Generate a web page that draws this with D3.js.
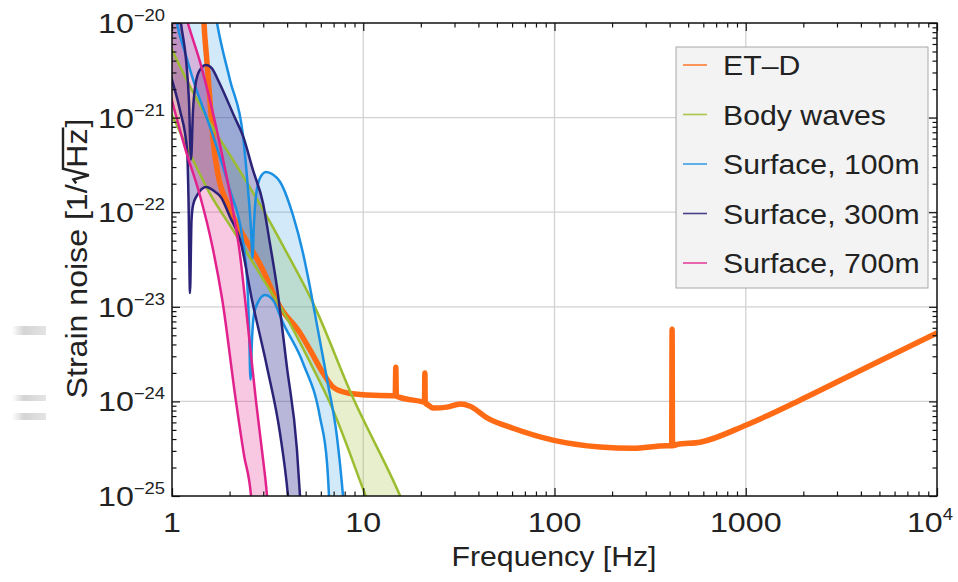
<!DOCTYPE html>
<html>
<head>
<meta charset="utf-8">
<script src="https://cdn.jsdelivr.net/npm/d3@7/dist/d3.min.js"></script>
<style>
  html, body { margin: 0; padding: 0; background: #fff; }
  svg { display: block; font-family: "Liberation Sans", Arial, sans-serif; }
</style>
</head>
<body>
<svg id="chart" width="958" height="582"></svg>
<script>
// ET-D design sensitivity: [frequency (Hz), strain noise (1/sqrt(Hz))]
const etd = [
  [1.44, 3.0e-20], [1.47, 1.0e-20], [1.52, 4.1e-21], [1.58, 1.5e-21], [1.64, 5.8e-22],
  [1.74, 2.5e-22], [1.96, 1.2e-22], [2.27, 6.5e-23], [2.56, 4.3e-23], [2.89, 2.8e-23],
  [3.67, 1.0e-23], [4.67, 5.3e-24], [5.27, 3.5e-24], [6.16, 2.0e-24], [6.95, 1.42e-24],
  [8.22, 1.23e-24], [10.5, 1.17e-24], [14.3, 1.15e-24], [14.7, 1.15e-24], [14.8, 2.3e-24],
  [14.9, 1.14e-24], [15.4, 1.11e-24], [20.5, 9.9e-25], [20.9, 9.8e-25], [21.0, 2.0e-24],
  [21.1, 9.6e-25], [21.8, 9.2e-25], [23.2, 8.5e-25], [27.4, 8.7e-25], [32.1, 9.4e-25],
  [36.2, 8.9e-25], [44.4, 6.7e-25], [60.7, 5.2e-25], [98, 3.9e-25], [173, 3.3e-25],
  [257, 3.2e-25], [387, 3.4e-25], [410, 3.4e-25], [412, 5.8e-24], [414, 3.4e-25],
  [437, 3.5e-25], [577, 3.7e-25], [1000, 5.6e-25], [1920, 1.03e-24], [4300, 2.3e-24],
  [10000, 5.3e-24]
];

// Newtonian noise from body waves: upper and lower bounds
const bodyUpper = [
  [0.92, 7.5e-21], [1.0, 5.2e-21], [1.60, 8.4e-22], [2.08, 3.6e-22], [2.89, 1.2e-22],
  [3.99, 3.7e-23], [5.46, 1.1e-23], [8.84, 1.09e-24], [15.6, 1.0e-25], [17.6, 5.6e-26]
];
const bodyLower = [
  [0.92, 1.5e-21], [1.0, 1.06e-21], [1.60, 1.5e-22], [2.08, 6.5e-23], [2.89, 2.2e-23],
  [3.99, 7.6e-24], [5.46, 2.25e-24], [6.70, 9.6e-25], [10.3, 1.0e-25], [11.5, 5.6e-26]
];

// Surface-wave Newtonian noise at 100 m depth
const surf100Upper = [
  [1.66, 1.55e-20], [1.72, 1.0e-20], [2.01, 2.5e-21], [2.35, 6.5e-22], [2.50, 1.7e-22],
  [2.59, 6.5e-23], [2.636, 3.3e-23], [2.68, 7.3e-23], [2.75, 1.5e-22], [2.885, 2.3e-22],
  [3.10, 2.66e-22], [3.37, 2.5e-22], [3.67, 2.1e-22], [4.29, 9.3e-23], [4.84, 3.7e-23],
  [5.27, 1.6e-23], [5.73, 6.4e-24], [6.47, 1.7e-24], [7.29, 4.2e-25], [7.84, 1.0e-25],
  [8.03, 5.6e-26]
];
const surf100Lower = [
  [1.037, 1.37e-20], [1.062, 1.0e-20], [1.17, 4.9e-21], [1.29, 2.5e-21], [1.60, 7.4e-22],
  [2.01, 1.7e-22], [2.32, 5.7e-23], [2.47, 1.9e-23], [2.53, 5.7e-24], [2.573, 1.7e-24],
  [2.62, 4.5e-24], [2.68, 8.2e-24], [2.82, 1.12e-23], [3.06, 1.33e-23], [3.37, 1.18e-23],
  [3.80, 6.8e-24], [4.84, 2.55e-24], [5.94, 6.8e-25], [6.47, 2.2e-25], [6.62, 1.0e-25],
  [6.70, 5.6e-26]
];

// Surface-wave Newtonian noise at 300 m depth
const surf300Upper = [
  [1.075, 2.0e-20], [1.114, 1.0e-20], [1.184, 4.1e-21], [1.227, 1.5e-21], [1.257, 3.6e-22],
  [1.288, 1.2e-21], [1.335, 2.4e-21], [1.40, 3.2e-21], [1.506, 3.6e-21], [1.62, 3.3e-21],
  [1.74, 2.5e-21], [2.135, 9.9e-22], [2.35, 6.4e-22], [2.65, 2.8e-22], [2.99, 1.25e-22],
  [3.25, 4.7e-23], [3.54, 1.6e-23], [3.99, 2.3e-24], [4.50, 3.1e-25], [4.67, 1.0e-25],
  [4.75, 5.6e-26]
];
const surf300Lower = [
  [0.92, 4.6e-21], [1.0, 2.5e-21], [1.10, 1.2e-21], [1.20, 4.5e-22], [1.22, 1.35e-22],
  [1.242, 1.4e-23], [1.265, 8.3e-23], [1.29, 1.2e-22], [1.35, 1.5e-22], [1.51, 1.85e-22],
  [1.68, 1.64e-22], [1.80, 1.45e-22], [2.01, 8.9e-23], [2.27, 5.1e-23], [2.62, 1.18e-23],
  [3.14, 2.3e-24], [3.67, 4.6e-25], [4.04, 1.0e-25], [4.14, 5.6e-26]
];

// Surface-wave Newtonian noise at 700 m depth
const surf700Upper = [
  [1.14, 1.55e-20], [1.21, 1.0e-20], [1.40, 3.9e-21], [1.60, 1.36e-21], [1.83, 4.0e-22],
  [2.06, 1.2e-22], [2.27, 3.5e-23], [2.41, 1.2e-23], [2.75, 1.0e-24], [2.95, 3.1e-25],
  [3.14, 1.0e-25], [3.21, 5.6e-26]
];
const surf700Lower = [
  [0.92, 2.8e-21], [1.0, 1.5e-21], [1.18, 4.5e-22], [1.40, 1.5e-22], [1.62, 4.5e-23],
  [1.83, 1.2e-23], [2.16, 1.0e-24], [2.38, 2.7e-25], [2.59, 1.0e-25], [2.65, 5.6e-26]
];

// Axis ticks and labels
const xTickValues = [1, 10, 100, 1000, 10000];
const xTickBase = ["1", "10", "100", "1000", "10"];
const xTickExp = ["", "", "", "", "4"];
const yTickValues = [1e-20, 1e-21, 1e-22, 1e-23, 1e-24, 1e-25];
const yTickExp = ["\u221220", "\u221221", "\u221222", "\u221223", "\u221224", "\u221225"];
const legendLabels = ["ET\u2013D", "Body waves", "Surface, 100m", "Surface, 300m", "Surface, 700m"];

// ---------------------------------------------------------------------------
const svg = d3.select("#chart");
const plot = { left: 172, right: 937, top: 23, bottom: 496 };
const ink = "#222";

const x = d3.scaleLog().domain([1, 1e4]).range([plot.left, plot.right]);
const y = d3.scaleLog().domain([1e-25, 1e-20]).range([plot.bottom, plot.top]);

const defs = svg.append("defs");
defs.append("clipPath").attr("id", "plotClip")
  .append("rect")
  .attr("x", plot.left).attr("y", plot.top)
  .attr("width", plot.right - plot.left).attr("height", plot.bottom - plot.top);

const fade = defs.append("linearGradient").attr("id", "fadeBar");
fade.append("stop").attr("offset", "0%").attr("stop-color", "#fff");
fade.append("stop").attr("offset", "35%").attr("stop-color", "#d4d4d4");
fade.append("stop").attr("offset", "100%").attr("stop-color", "#e4e4e4");

// faint background strokes at the left margin
svg.append("g").selectAll("rect")
  .data([[326, 9], [395, 6], [413, 7]])
  .join("rect")
  .attr("x", 12).attr("y", d => d[0]).attr("width", 34).attr("height", d => d[1])
  .attr("fill", "url(#fadeBar)");

// gridlines at the inner decades
const gridG = svg.append("g").attr("stroke", "#d2d2d2").attr("stroke-width", 1.3);
gridG.selectAll("line.gx").data(xTickValues.slice(1, -1)).join("line")
  .attr("x1", d => x(d)).attr("x2", d => x(d))
  .attr("y1", plot.top).attr("y2", plot.bottom);
gridG.selectAll("line.gy").data(yTickValues.slice(1, -1)).join("line")
  .attr("y1", d => y(d)).attr("y2", d => y(d))
  .attr("x1", plot.left).attr("x2", plot.right);

// data layers
const lineGen = d3.line()
  .x(d => x(d[0]))
  .y(d => y(d[1]))
  .curve(d3.curveMonotoneX);

const bands = [
  { name: legendLabels[1], upper: bodyUpper, lower: bodyLower, stroke: "#9bbd2f", fill: "rgba(155,189,47,0.24)" },
  { name: legendLabels[2], upper: surf100Upper, lower: surf100Lower, stroke: "#1b8fe2", fill: "rgba(27,143,226,0.20)" },
  { name: legendLabels[3], upper: surf300Upper, lower: surf300Lower, stroke: "#2b2378", fill: "rgba(60,56,150,0.36)" },
  { name: legendLabels[4], upper: surf700Upper, lower: surf700Lower, stroke: "#e2228c", fill: "rgba(226,34,140,0.25)" }
];
const etdColor = "#ff6a14";

function bandPath(b) {
  const up = lineGen(b.upper);
  const lo = lineGen(b.lower.slice().reverse());
  return up + "L" + lo.slice(1) + "L" + (plot.left - 30) + "," + (plot.top - 30) + "Z";
}

const dataG = svg.append("g").attr("clip-path", "url(#plotClip)");

dataG.selectAll("path.band").data(bands).join("path")
  .attr("class", "band")
  .attr("d", bandPath)
  .attr("fill", d => d.fill)
  .attr("stroke", "none");

dataG.append("path")
  .datum(etd)
  .attr("d", lineGen)
  .attr("fill", "none")
  .attr("stroke", etdColor)
  .attr("stroke-width", 5.5)
  .attr("stroke-linejoin", "round");

bands.forEach(b => {
  [b.upper, b.lower].forEach(curve => {
    dataG.append("path")
      .datum(curve)
      .attr("d", lineGen)
      .attr("fill", "none")
      .attr("stroke", b.stroke)
      .attr("stroke-width", 2.5)
      .attr("stroke-linejoin", "round");
  });
});

// frame ticks (inward on all four sides)
const minorX = [];
for (let e = 0; e < 4; e++) for (let k = 2; k <= 9; k++) minorX.push(k * Math.pow(10, e));
const minorY = [];
for (let e = -25; e < -20; e++) for (let k = 2; k <= 9; k++) minorY.push(k * Math.pow(10, e));

function tickAxis(axis, values, size, transform) {
  const g = svg.append("g")
    .attr("transform", transform)
    .call(axis.tickValues(values).tickSize(size).tickFormat(""));
  g.select(".domain").remove();
  g.selectAll(".tick line").attr("stroke", "#111").attr("stroke-width", 1.2);
}
tickAxis(d3.axisBottom(x), xTickValues, -8, `translate(0,${plot.bottom})`);
tickAxis(d3.axisBottom(x), minorX, -4.5, `translate(0,${plot.bottom})`);
tickAxis(d3.axisTop(x), xTickValues, -8, `translate(0,${plot.top})`);
tickAxis(d3.axisTop(x), minorX, -4.5, `translate(0,${plot.top})`);
tickAxis(d3.axisLeft(y), yTickValues, -8, `translate(${plot.left},0)`);
tickAxis(d3.axisLeft(y), minorY, -4.5, `translate(${plot.left},0)`);
tickAxis(d3.axisRight(y), yTickValues, -8, `translate(${plot.right},0)`);
tickAxis(d3.axisRight(y), minorY, -4.5, `translate(${plot.right},0)`);

svg.append("rect")
  .attr("x", plot.left).attr("y", plot.top)
  .attr("width", plot.right - plot.left).attr("height", plot.bottom - plot.top)
  .attr("fill", "none").attr("stroke", "#111").attr("stroke-width", 1.5);

// text helper: horizontally widened Liberation Sans
function label(str, px, py, anchor, size, sx, sup) {
  const t = svg.append("text")
    .attr("transform", `translate(${px},${py}) scale(${sx},1)`)
    .attr("text-anchor", anchor)
    .attr("font-size", size)
    .attr("fill", ink)
    .text(str);
  if (sup) t.append("tspan").attr("font-size", 16).attr("dy", -12).text(sup);
  return t;
}

// tick labels
xTickValues.forEach((v, i) => {
  if (xTickExp[i]) label(xTickBase[i], 953, 532, "end", 28, 1.15, xTickExp[i]);
  else label(xTickBase[i], x(v), 532, "middle", 28, 1.15, "");
});
yTickValues.forEach((v, i) => {
  label("10", 165, y(v) + 10, "end", 28, 1.15, yTickExp[i]);
});

// axis titles
label("Frequency [Hz]", 554, 566, "middle", 27, 1.12, "");

const titleSize = 30;
const titleG = svg.append("g")
  .attr("transform", "translate(87,259) rotate(-90) scale(1.07,1)")
  .attr("font-size", titleSize)
  .attr("fill", ink);
const t1 = titleG.append("text").text("Strain noise [1/");
const t2 = titleG.append("text").text("Hz");
const t3 = titleG.append("text").text("]");
const L1 = t1.node().getComputedTextLength();
const L2 = t2.node().getComputedTextLength();
const L3 = t3.node().getComputedTextLength();
const rw = titleSize * 0.52;
const x0 = -(L1 + rw + L2 + L3) / 2;
t1.attr("x", x0);
t2.attr("x", x0 + L1 + rw);
t3.attr("x", x0 + L1 + rw + L2 + 1);
const rx = x0 + L1;
titleG.append("path")
  .attr("d", `M${rx + 1},${-0.36 * titleSize} L${rx + 4.5},${-0.45 * titleSize} L${rx + 8.5},${0.06 * titleSize} L${rx + rw - 1},${-0.8 * titleSize} H${rx + rw + L2 + 1}`)
  .attr("fill", "none")
  .attr("stroke", ink)
  .attr("stroke-width", 2.4)
  .attr("stroke-linejoin", "miter");

// legend
const legend = svg.append("g");
legend.append("rect")
  .attr("x", 676).attr("y", 47).attr("width", 252).attr("height", 241)
  .attr("fill", "#f3f3f3").attr("stroke", "#a8a8a8").attr("stroke-width", 1);
const legendColors = [etdColor].concat(bands.map(b => b.stroke));
legendLabels.forEach((name, i) => {
  const cy = 65 + i * 49.5;
  legend.append("line")
    .attr("x1", 683).attr("x2", 707).attr("y1", cy).attr("y2", cy)
    .attr("stroke", legendColors[i]).attr("stroke-width", 1.6).attr("opacity", 0.85);
  label(name, 723, cy + 10, "start", 27, 1.12, "");
});
</script>
</body>
</html>
